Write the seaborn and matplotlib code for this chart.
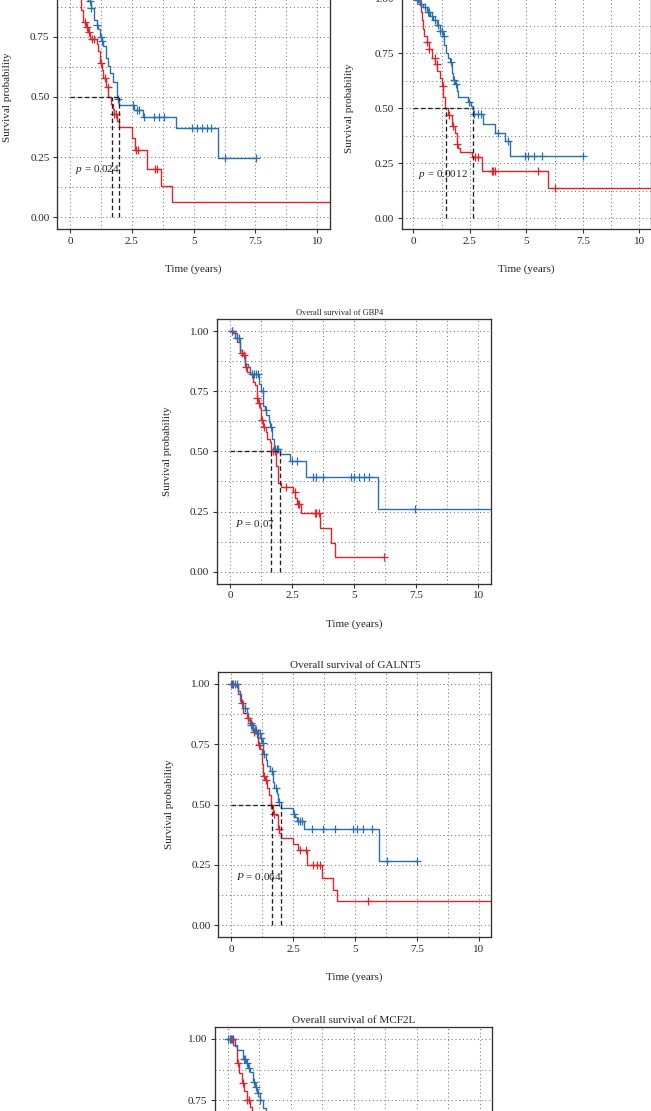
import numpy as np
import matplotlib
matplotlib.use("Agg")
import matplotlib.pyplot as plt
import seaborn as sns

# ---- data (time in years, survival probability) ----
# top-left panel
tl_red_t = [0, 0.1, 0.2, 0.28, 0.36, 0.45, 0.54, 0.65, 0.74, 0.81, 1.1, 1.15, 1.21, 1.28, 1.35, 1.46,
            1.55, 1.64, 1.72, 1.8, 1.89, 1.97, 2.49, 2.63, 3.1, 3.68, 4.11]
tl_red_s = [1.0, 0.98, 0.96, 0.94, 0.91, 0.86, 0.81, 0.79, 0.77, 0.74, 0.72, 0.69, 0.64, 0.61, 0.58, 0.54,
            0.50, 0.47, 0.45, 0.43, 0.40, 0.375, 0.33, 0.28, 0.20, 0.13, 0.065]
tl_red_cens = [0.6, 0.68, 0.75, 0.9, 0.98, 1.25, 1.4, 1.52, 1.8, 1.85, 2.67, 2.75, 3.44, 3.5]
tl_red_end = 10.6
tl_blue_t = [0, 0.3, 0.5, 0.62, 0.72, 0.85, 0.98, 1.08, 1.15, 1.21, 1.28, 1.35, 1.44, 1.55, 1.62, 1.75,
             1.89, 1.98, 2.6, 2.95, 4.27, 6.0]
tl_blue_s = [1.0, 0.98, 0.96, 0.93, 0.90, 0.87, 0.82, 0.80, 0.78, 0.75, 0.73, 0.71, 0.66, 0.63, 0.60, 0.56,
             0.49, 0.465, 0.445, 0.415, 0.37, 0.245]
tl_blue_cens = [0.8, 0.85, 1.1, 1.25, 1.3, 1.93, 2.55, 2.7, 2.8, 3.0, 3.4, 3.6, 3.8, 4.95, 5.15, 5.35,
                5.55, 5.7, 6.27, 7.52]
tl_blue_end = 7.52

# top-right panel
tr_red_t = [0, 0.2, 0.29, 0.33, 0.37, 0.42, 0.47, 0.59, 0.68, 0.81, 0.96, 1.06, 1.18, 1.25, 1.33, 1.40,
            1.55, 1.70, 1.84, 1.92, 1.99, 2.06, 2.58, 3.02, 3.05, 5.97]
tr_red_s = [1.0, 0.985, 0.97, 0.94, 0.90, 0.86, 0.83, 0.80, 0.77, 0.73, 0.70, 0.67, 0.64, 0.60, 0.55, 0.50,
            0.47, 0.42, 0.39, 0.34, 0.32, 0.303, 0.28, 0.265, 0.215, 0.14]
tr_red_cens = [0.6, 0.7, 0.95, 1.05, 1.3, 1.6, 1.75, 1.95, 2.75, 2.85, 3.47, 3.54, 3.61, 5.53, 6.27]
tr_red_end = 10.6
tr_blue_t = [0, 0.1, 0.3, 0.44, 0.6, 0.75, 0.88, 1.03, 1.18, 1.3, 1.38, 1.47, 1.55, 1.62, 1.7, 1.77,
             1.84, 1.92, 2.0, 2.43, 2.55, 2.65, 3.1, 3.61, 4.06, 4.28]
tr_blue_s = [1.0, 0.99, 0.975, 0.96, 0.94, 0.92, 0.90, 0.88, 0.85, 0.83, 0.79, 0.75, 0.73, 0.71, 0.66, 0.63,
             0.61, 0.58, 0.553, 0.53, 0.51, 0.475, 0.43, 0.39, 0.35, 0.285]
tr_blue_cens = [0.15, 0.35, 0.5, 0.65, 0.7, 0.85, 0.95, 1.1, 1.2, 1.25, 1.35, 1.65, 1.8, 1.9, 2.45, 2.7,
                2.85, 3.0, 3.75, 4.2, 4.94, 5.09, 5.34, 5.71, 7.52]
tr_blue_end = 7.52

# GBP4
gbp4_red_t = [0, 0.13, 0.27, 0.4, 0.53, 0.6, 0.67, 0.8, 0.94, 1.0, 1.07, 1.14, 1.2, 1.27, 1.34, 1.44, 1.5,
              1.6, 1.67, 1.87, 1.94, 2.07, 2.54, 2.61, 2.7, 2.87, 3.61, 4.08, 4.24]
gbp4_red_s = [1.0, 0.99, 0.955, 0.91, 0.90, 0.85, 0.83, 0.82, 0.79, 0.775, 0.72, 0.70, 0.68, 0.63, 0.60, 0.58,
              0.55, 0.54, 0.50, 0.44, 0.37, 0.353, 0.33, 0.305, 0.28, 0.243, 0.182, 0.12, 0.06]
gbp4_red_cens = [0.07, 0.5, 0.58, 0.65, 1.1, 1.17, 1.3, 1.38, 1.75, 1.82, 2.25, 2.6, 2.75, 2.8, 3.41,
                 3.48, 3.58, 6.22]
gbp4_red_end = 6.22
gbp4_blue_t = [0, 0.2, 0.4, 0.47, 0.6, 0.74, 0.8, 1.18, 1.27, 1.34, 1.4, 1.47, 1.58, 1.63, 1.71, 1.76,
               2.0, 2.41, 3.05, 5.95]
gbp4_blue_s = [1.0, 0.97, 0.92, 0.90, 0.865, 0.85, 0.82, 0.78, 0.75, 0.69, 0.67, 0.65, 0.62, 0.60, 0.55, 0.51,
               0.487, 0.46, 0.395, 0.262]
gbp4_blue_cens = [0.07, 0.3, 0.35, 0.88, 0.95, 1.05, 1.15, 1.32, 1.45, 1.65, 1.8, 1.88, 1.95, 2.48, 2.7,
                  3.34, 3.48, 3.74, 4.88, 5.01, 5.21, 5.41, 5.61, 7.46]
gbp4_blue_end = 10.6

# GALNT5
galnt5_red_t = [0, 0.16, 0.3, 0.4, 0.5, 0.63, 0.77, 0.9, 0.97, 1.03, 1.1, 1.17, 1.24, 1.3, 1.37, 1.47, 1.55,
                1.6, 1.68, 1.81, 1.88, 1.95, 2.0, 2.51, 2.72, 3.08, 3.66, 4.1, 4.26]
galnt5_red_s = [1.0, 0.99, 0.96, 0.92, 0.88, 0.86, 0.84, 0.80, 0.795, 0.78, 0.745, 0.73, 0.67, 0.62, 0.60,
                0.57, 0.54, 0.50, 0.46, 0.455, 0.40, 0.38, 0.36, 0.335, 0.31, 0.248, 0.197, 0.145, 0.10]
galnt5_red_cens = [0.05, 0.45, 0.7, 0.8, 0.93, 1.13, 1.33, 1.42, 1.6, 1.75, 1.92, 2.8, 3.03, 3.32, 3.45,
                   3.59, 5.51]
galnt5_red_end = 10.6
galnt5_blue_t = [0, 0.3, 0.36, 0.5, 0.63, 0.7, 0.77, 0.9, 1.05, 1.17, 1.24, 1.3, 1.41, 1.47, 1.58, 1.71, 1.75,
                 1.84, 1.91, 2.02, 2.51, 2.58, 2.65, 2.94, 5.98]
galnt5_blue_s = [1.0, 0.97, 0.93, 0.90, 0.88, 0.85, 0.83, 0.81, 0.795, 0.775, 0.755, 0.71, 0.685, 0.66, 0.64,
                 0.595, 0.57, 0.545, 0.51, 0.485, 0.46, 0.45, 0.43, 0.397, 0.265]
galnt5_blue_cens = [0.02, 0.1, 0.17, 0.23, 0.55, 0.8, 0.85, 0.95, 1.0, 1.1, 1.15, 1.2, 1.28, 1.35, 1.65,
                    1.8, 1.95, 2.55, 2.7, 2.78, 2.85, 3.25, 3.72, 4.19, 4.93, 5.07, 5.31, 5.67, 6.28, 7.51]
galnt5_blue_end = 7.51

# MCF2L (only the top is visible)
mcf2l_red_t = [0, 0.29, 0.38, 0.46, 0.55, 0.65, 0.75, 0.89, 0.95, 1.05, 1.15]
mcf2l_red_s = [1.0, 0.97, 0.90, 0.86, 0.82, 0.785, 0.75, 0.72, 0.70, 0.66, 0.62]
mcf2l_red_cens = [0.08, 0.15, 0.22, 0.42, 0.6, 0.78, 0.85]
mcf2l_red_end = 1.2
mcf2l_blue_t = [0, 0.22, 0.36, 0.62, 0.73, 0.82, 0.89, 1.02, 1.08, 1.18, 1.28, 1.39, 1.5, 1.6, 1.75]
mcf2l_blue_s = [1.0, 0.975, 0.955, 0.92, 0.90, 0.88, 0.866, 0.825, 0.805, 0.78, 0.75, 0.716, 0.68, 0.64, 0.60]
mcf2l_blue_cens = [0.03, 0.1, 0.17, 0.65, 0.7, 0.78, 0.85, 1.05, 1.12, 1.2, 1.3]
mcf2l_blue_end = 1.8

# median survival (red, blue) and p-value labels
medians = {"tl": (1.68, 1.97), "tr": (1.43, 2.63), "gbp4": (1.67, 2.0), "galnt5": (1.64, 2.02)}
pvals = {"tl": ("p", "0.024"), "tr": ("p", "0.0012"), "gbp4": ("P", "0.07"), "galnt5": ("P", "0.064")}

x_ticks = [0, 2.5, 5, 7.5, 10]
x_tick_labels = ["0", "2.5", "5", "7.5", "10"]
y_ticks = [0, 0.25, 0.5, 0.75, 1.0]
y_tick_labels = ["0.00", "0.25", "0.50", "0.75", "1.00"]

sns.set_style("white")
plt.rcParams['font.family'] = ['Liberation Serif', 'DejaVu Serif']
plt.rcParams['mathtext.fontset'] = 'custom'
plt.rcParams['mathtext.it'] = 'Liberation Serif:italic'
plt.rcParams['mathtext.rm'] = 'Liberation Serif'

RED = '#E2232A'
BLUE = '#2A70B0'
W, H = 651, 1111
fig = plt.figure(figsize=(W / 100, H / 100), dpi=100)


def km(ax, t, s, cens, end, color):
    tt = list(t) + [end]
    ss = list(s) + [s[-1]]
    sns.lineplot(x=tt, y=ss, ax=ax, drawstyle='steps-post', color=color, lw=1.0,
                 estimator=None, sort=False, zorder=3)
    idx = np.searchsorted(t, cens, side='right') - 1
    sns.scatterplot(x=cens, y=np.array(s)[idx], ax=ax, marker='+', color=color,
                    s=30, linewidth=0.9, zorder=4)


def panel(box, curves, key=None, title=None, title_x=0.5, title_size=8, ylab_x=None):
    l, r, t0, b = box
    ax = fig.add_axes([l / W, 1 - b / H, (r - l) / W, (b - t0) / H])
    for c in curves:
        km(ax, *c)
    if key in medians:
        m1, m2 = medians[key]
        dash = dict(color='#222222', lw=0.95, ls=(0, (3.5, 2)), zorder=5)
        ax.plot([0, max(m1, m2)], [0.5, 0.5], **dash)
        ax.plot([m1, m1], [0, 0.5], **dash)
        ax.plot([m2, m2], [0, 0.5], **dash)
        letter, val = pvals[key]
        ax.text(0.22, 0.2, f"${letter}$ = {val}", fontsize=8, va='center', ha='left', zorder=6)
    ax.set_xlim(-0.52, 10.5)
    ax.set_ylim(-0.05, 1.05)
    ax.set_xticks(x_ticks)
    ax.set_xticklabels(x_tick_labels)
    ax.set_yticks(y_ticks)
    ax.set_yticklabels(y_tick_labels)
    ax.set_xticks([1.25, 3.75, 6.25, 8.75], minor=True)
    ax.set_yticks([0.125, 0.375, 0.625, 0.875], minor=True)
    ax.tick_params(which='major', direction='out', length=3, width=0.8, color='#333333',
                   labelsize=8, pad=2.5, left=True, bottom=True)
    ax.tick_params(which='minor', length=0)
    ax.grid(True, which='both', ls=(0, (1, 2.6)), color='#7a7a7a', lw=0.75)
    ax.set_axisbelow(True)
    for sp in ax.spines.values():
        sp.set_color('#333333')
        sp.set_linewidth(0.95)
    ax.set_xlabel("Time (years)", fontsize=8, va='center')
    ax.set_ylabel("Survival probability", fontsize=8, va='center')
    ax.xaxis.set_label_coords(0.5, -40 / (b - t0))
    ax.yaxis.set_label_coords((ylab_x - l) / (r - l), 0.5)
    if title:
        ax.set_title(title, fontsize=title_size, pad=3, x=title_x)
    return ax


panel((57.1, 329.7, -35.6, 229.3),
      [(tl_red_t, tl_red_s, tl_red_cens, tl_red_end, RED),
       (tl_blue_t, tl_blue_s, tl_blue_cens, tl_blue_end, BLUE)], key="tl", ylab_x=7)
panel((401.5, 650.6, -12.7, 229.3),
      [(tr_red_t, tr_red_s, tr_red_cens, tr_red_end, RED),
       (tr_blue_t, tr_blue_s, tr_blue_cens, tr_blue_end, BLUE)], key="tr", ylab_x=350)
panel((217.0, 490.8, 319.0, 583.7),
      [(gbp4_red_t, gbp4_red_s, gbp4_red_cens, gbp4_red_end, RED),
       (gbp4_blue_t, gbp4_blue_s, gbp4_blue_cens, gbp4_blue_end, BLUE)], key="gbp4",
      title="Overall survival of GBP4", title_x=0.448, title_size=6, ylab_x=168)
panel((218.1, 491.4, 671.9, 937.1),
      [(galnt5_red_t, galnt5_red_s, galnt5_red_cens, galnt5_red_end, RED),
       (galnt5_blue_t, galnt5_blue_s, galnt5_blue_cens, galnt5_blue_end, BLUE)], key="galnt5",
      title="Overall survival of GALNT5", ylab_x=169)
panel((214.6, 492.3, 1026.8, 1295.2),
      [(mcf2l_red_t, mcf2l_red_s, mcf2l_red_cens, mcf2l_red_end, RED),
       (mcf2l_blue_t, mcf2l_blue_s, mcf2l_blue_cens, mcf2l_blue_end, BLUE)], key="mcf2l",
      title="Overall survival of MCF2L", ylab_x=166)

fig.savefig("out.png", dpi=100)
